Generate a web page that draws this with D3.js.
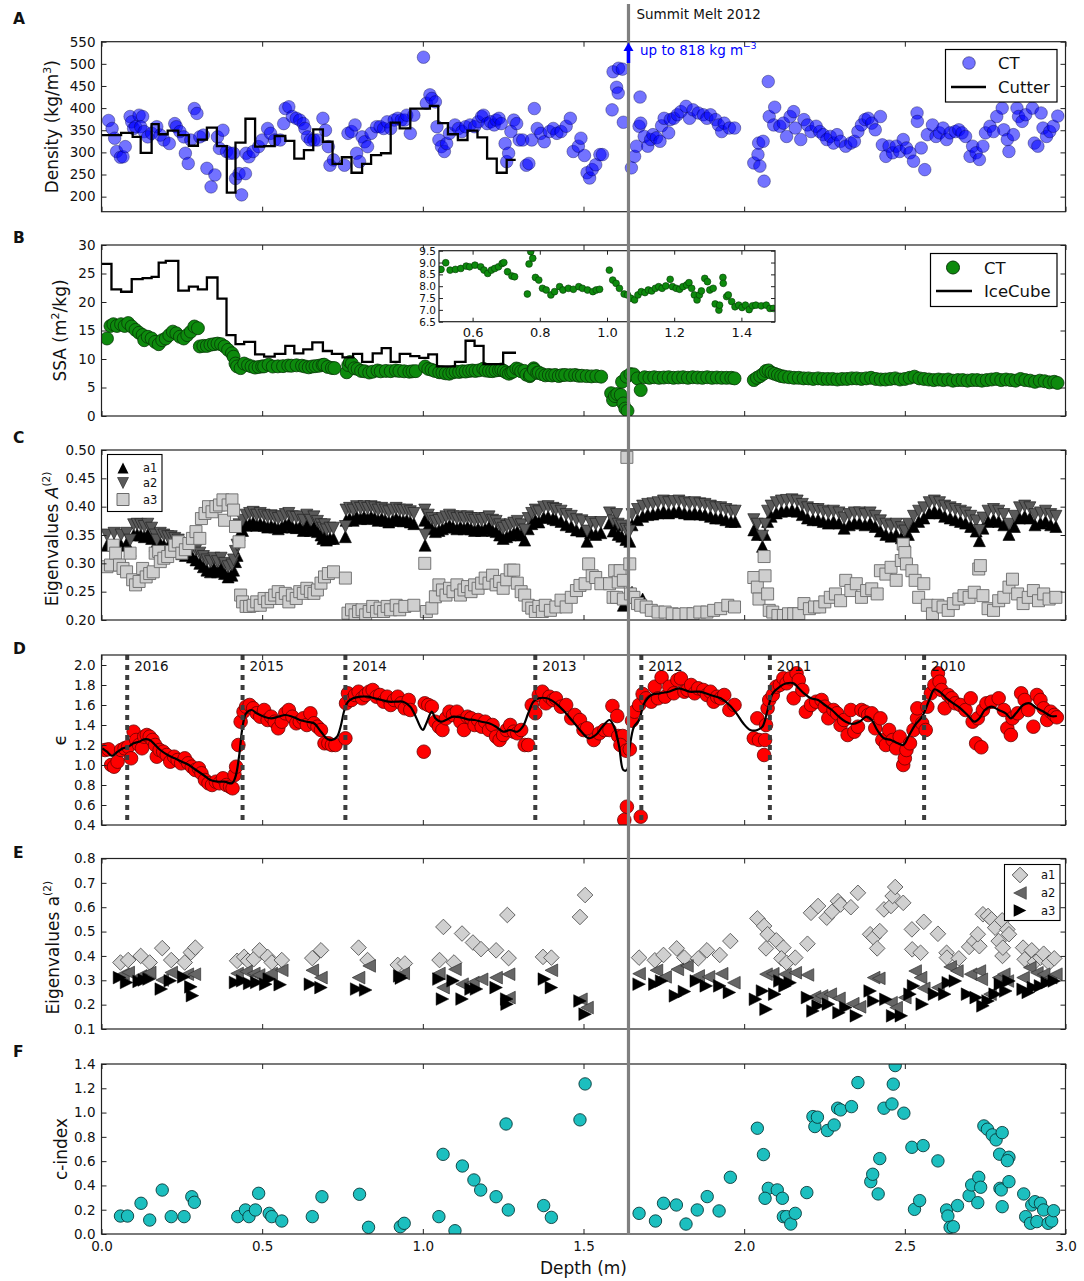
<!DOCTYPE html>
<html><head><meta charset="utf-8">
<script src="https://cdn.jsdelivr.net/npm/d3@7"></script>
<style>
body{margin:0;background:#fff}
svg{display:block}
text{font-family:"DejaVu Sans","Liberation Sans",sans-serif;fill:#111}
</style>
</head><body>
<svg id="c" width="1084" height="1281"></svg>
<script>
// ---------------- DATA ----------------
const MELT_DEPTH = 1.64;
const xTicks = [0,0.5,1,1.5,2,2.5,3];

// Panel A: CT density [depth m, kg/m3]
const ctDensity = [[0.022,372],[0.033,354],[0.041,332],[0.047,302],[0.059,289],[0.067,290],[0.074,313],[0.089,381],[0.094,369],[0.1,354],[0.106,358],[0.117,384],[0.128,381],[0.122,358],[0.133,347],[0.144,335],[0.156,343],[0.172,358],[0.183,339],[0.194,328],[0.211,320],[0.228,365],[0.233,358],[0.244,347],[0.256,335],[0.261,298],[0.27,275],[0.278,328],[0.289,399],[0.297,388],[0.306,335],[0.317,339],[0.328,264],[0.341,222],[0.353,249],[0.361,335],[0.367,309],[0.378,350],[0.389,302],[0.4,298],[0.411,298],[0.417,241],[0.428,252],[0.436,204],[0.448,252],[0.45,298],[0.459,290],[0.472,302],[0.489,313],[0.5,328],[0.517,354],[0.526,343],[0.539,328],[0.556,328],[0.567,365],[0.572,399],[0.583,403],[0.594,381],[0.606,377],[0.617,373],[0.628,365],[0.633,354],[0.641,335],[0.65,328],[0.661,328],[0.672,328],[0.689,377],[0.697,350],[0.706,313],[0.711,271],[0.722,283],[0.756,271],[0.767,343],[0.778,347],[0.789,362],[0.794,298],[0.803,279],[0.811,335],[0.819,324],[0.828,313],[0.839,343],[0.856,358],[0.867,358],[0.878,354],[0.889,369],[0.9,354],[0.911,373],[0.922,377],[0.933,373],[0.944,373],[0.95,384],[0.961,343],[0.972,384],[1.002,515],[1.011,411],[1.022,430],[1.028,422],[1.039,414],[1.044,358],[1.05,328],[1.058,313],[1.067,302],[1.074,320],[1.083,343],[1.1,362],[1.111,354],[1.122,347],[1.133,358],[1.147,362],[1.161,358],[1.172,369],[1.183,381],[1.189,384],[1.2,365],[1.211,369],[1.222,362],[1.228,373],[1.237,377],[1.244,365],[1.256,320],[1.261,279],[1.267,298],[1.274,347],[1.283,373],[1.292,365],[1.3,328],[1.311,328],[1.322,271],[1.33,275],[1.339,328],[1.347,399],[1.356,354],[1.367,343],[1.378,324],[1.394,347],[1.406,354],[1.417,343],[1.43,347],[1.446,359],[1.459,377],[1.468,302],[1.484,314],[1.492,332],[1.503,293],[1.511,254],[1.519,242],[1.527,261],[1.538,272],[1.551,295],[1.559,295],[1.589,396],[1.592,482],[1.603,447],[1.608,434],[1.609,490],[1.621,488],[1.624,368],[1.649,265],[1.659,291],[1.665,314],[1.676,425],[1.673,359],[1.678,366],[1.689,336],[1.7,314],[1.709,329],[1.716,340],[1.727,333],[1.738,325],[1.743,360],[1.751,377],[1.765,344],[1.77,374],[1.781,377],[1.792,385],[1.803,392],[1.819,404],[1.83,377],[1.841,396],[1.857,389],[1.873,385],[1.884,377],[1.895,385],[1.911,374],[1.92,362],[1.93,347],[1.938,366],[1.954,355],[1.97,355],[2.03,276],[2.043,295],[2.049,269],[2.062,235],[2.045,321],[2.059,325],[2.075,460],[2.078,381],[2.095,402],[2.092,362],[2.111,359],[2.122,366],[2.132,336],[2.143,381],[2.154,392],[2.159,355],[2.176,329],[2.186,374],[2.197,362],[2.208,347],[2.224,359],[2.235,347],[2.246,340],[2.257,329],[2.268,336],[2.278,321],[2.289,340],[2.3,325],[2.316,314],[2.332,321],[2.343,325],[2.354,347],[2.365,362],[2.376,374],[2.386,377],[2.397,366],[2.408,351],[2.424,381],[2.43,317],[2.441,291],[2.451,314],[2.462,299],[2.473,314],[2.484,302],[2.495,329],[2.505,310],[2.516,299],[2.527,280],[2.538,389],[2.539,370],[2.551,310],[2.562,261],[2.57,340],[2.586,362],[2.597,336],[2.608,344],[2.619,355],[2.63,329],[2.641,344],[2.657,347],[2.668,351],[2.678,344],[2.689,336],[2.703,291],[2.711,314],[2.722,299],[2.732,284],[2.743,314],[2.751,344],[2.765,359],[2.776,347],[2.786,381],[2.803,400],[2.808,351],[2.819,329],[2.824,302],[2.838,340],[2.849,400],[2.854,381],[2.865,370],[2.876,385],[2.897,400],[2.903,321],[2.914,314],[2.924,389],[2.93,355],[2.941,336],[2.951,347],[2.962,359],[2.976,382]];

// Panel A: cutter density steps (bin edges and values)
const cutterEdges = [0,0.061,0.097,0.122,0.156,0.178,0.206,0.239,0.272,0.3,0.328,0.359,0.39,0.417,0.448,0.478,0.506,0.539,0.572,0.6,0.63,0.659,0.689,0.719,0.748,0.778,0.811,0.839,0.87,0.9,0.928,0.961,0.992,1.022,1.048,1.078,1.109,1.139,1.17,1.2,1.23,1.261,1.289];
const cutterValues = [339,344,335,299,364,341,349,339,315,329,356,314,209,322,376,313,314,337,326,286,305,352,324,274,289,254,274,294,298,367,354,399,399,405,366,341,328,349,334,286,254,283];

// Panel B: CT SSA [depth, m2/kg]
const ctSSA = [[0.017,13.6],[0.028,15.8],[0.037,16.1],[0.048,15.8],[0.061,16.1],[0.072,15.8],[0.083,16.3],[0.094,15.7],[0.106,15.1],[0.117,14.6],[0.128,14.2],[0.133,13.3],[0.144,13.9],[0.156,13.6],[0.167,13.0],[0.178,12.6],[0.189,13.3],[0.2,13.6],[0.211,14.2],[0.222,14.8],[0.233,14.5],[0.244,13.9],[0.256,13.6],[0.267,14.2],[0.278,14.8],[0.289,15.7],[0.3,15.4],[0.306,12.2],[0.317,12.3],[0.328,12.3],[0.339,12.5],[0.35,12.6],[0.361,12.7],[0.372,12.6],[0.383,12.2],[0.394,11.6],[0.406,11.0],[0.411,10.4],[0.417,9.2],[0.422,8.7],[0.433,8.4],[0.444,9.2],[0.456,8.9],[0.467,8.7],[0.478,8.5],[0.489,8.6],[0.5,8.7],[0.506,8.71],[0.52,8.99],[0.533,8.68],[0.549,8.71],[0.565,8.75],[0.581,8.85],[0.591,8.82],[0.607,8.89],[0.624,8.82],[0.634,8.68],[0.645,8.54],[0.656,8.68],[0.666,8.75],[0.677,8.82],[0.688,8.96],[0.693,9.0],[0.704,8.61],[0.717,8.43],[0.725,8.4],[0.763,7.67],[0.768,8.94],[0.773,9.46],[0.779,9.18],[0.787,8.37],[0.797,8.26],[0.808,7.91],[0.819,7.84],[0.833,7.63],[0.844,7.77],[0.859,7.98],[0.869,7.84],[0.885,7.91],[0.9,7.87],[0.916,7.98],[0.927,7.91],[0.942,7.84],[0.958,7.77],[0.968,7.84],[0.978,7.87],[1.007,8.68],[1.017,8.26],[1.027,8.12],[1.037,7.91],[1.051,7.67],[1.061,7.63],[1.071,7.49],[1.082,7.42],[1.092,7.63],[1.102,7.77],[1.113,7.73],[1.123,7.84],[1.133,7.8],[1.144,7.91],[1.154,7.98],[1.164,7.91],[1.175,8.01],[1.188,8.29],[1.195,7.98],[1.206,7.91],[1.216,7.87],[1.226,7.98],[1.237,8.05],[1.244,8.15],[1.252,7.91],[1.26,7.63],[1.268,7.42],[1.275,7.63],[1.281,7.8],[1.291,8.33],[1.299,8.19],[1.306,7.84],[1.316,7.91],[1.322,7.25],[1.333,6.99],[1.335,7.2],[1.345,8.37],[1.346,8.12],[1.356,7.56],[1.361,7.63],[1.371,7.35],[1.381,7.13],[1.392,7.2],[1.402,7.1],[1.412,7.2],[1.423,7.01],[1.433,7.17],[1.443,7.2],[1.459,7.17],[1.474,7.2],[1.485,7.06],[1.495,7.06],[1.51,7.0],[1.525,6.95],[1.54,7.0],[1.555,6.9],[1.586,4.0],[1.592,2.8],[1.598,3.5],[1.605,3.85],[1.616,3.7],[1.624,2.2],[1.63,1.3],[1.637,0.9],[1.62,6.0],[1.634,6.9],[1.646,7.35],[1.656,7.3],[1.668,6.6],[1.678,4.55],[1.69,6.8],[1.705,6.7],[1.72,6.8],[1.735,6.7],[1.75,6.75],[1.765,6.8],[1.78,6.7],[1.795,6.75],[1.81,6.8],[1.825,6.7],[1.84,6.8],[1.855,6.75],[1.87,6.7],[1.885,6.8],[1.9,6.7],[1.915,6.75],[1.93,6.7],[1.945,6.7],[1.96,6.7],[1.97,6.6],[2.03,6.3],[2.04,6.7],[2.05,7.0],[2.06,7.4],[2.068,7.9],[2.076,8.0],[2.085,7.6],[2.095,7.4],[2.105,7.2],[2.115,7.0],[2.125,6.9],[2.14,6.8],[2.155,6.7],[2.17,6.7],[2.185,6.6],[2.2,6.6],[2.215,6.5],[2.23,6.6],[2.245,6.5],[2.26,6.5],[2.275,6.5],[2.29,6.4],[2.305,6.5],[2.32,6.5],[2.335,6.6],[2.35,6.6],[2.365,6.5],[2.38,6.6],[2.395,6.7],[2.41,6.5],[2.425,6.4],[2.44,6.4],[2.455,6.5],[2.47,6.6],[2.485,6.4],[2.5,6.5],[2.515,6.7],[2.53,6.9],[2.545,6.6],[2.56,6.5],[2.575,6.4],[2.59,6.3],[2.605,6.4],[2.62,6.3],[2.635,6.4],[2.65,6.2],[2.665,6.3],[2.68,6.3],[2.695,6.2],[2.71,6.3],[2.725,6.3],[2.74,6.2],[2.755,6.3],[2.77,6.4],[2.785,6.5],[2.8,6.3],[2.815,6.4],[2.83,6.3],[2.845,6.2],[2.86,6.5],[2.875,6.3],[2.89,6.2],[2.905,6.0],[2.92,6.2],[2.935,6.1],[2.95,5.9],[2.965,6.0],[2.975,5.8]];

// Panel B: IceCube SSA steps
const iceEdges = [0,0.031,0.061,0.094,0.128,0.156,0.178,0.2,0.239,0.272,0.3,0.328,0.361,0.389,0.417,0.444,0.478,0.506,0.539,0.572,0.6,0.628,0.656,0.689,0.717,0.75,0.783,0.811,0.844,0.872,0.9,0.928,0.961,0.989,1.017,1.044,1.1,1.133,1.161,1.189,1.25,1.29];
const iceValues = [26.7,22.2,21.8,24.0,24.2,24.4,26.9,27.2,22.0,22.7,22.2,24.3,20.6,14.2,12.6,13.0,10.8,10.4,10.9,12.3,11.0,11.7,12.9,11.4,10.9,10.3,10.9,9.5,11.0,11.9,9.5,10.9,10.5,10.2,10.8,8.7,9.5,13.2,12.3,9.1,11.1];
const insetXTicks = [0.6,0.8,1.0,1.2,1.4];
const insetYTicks = [6.5,7.0,7.5,8.0,8.5,9.0,9.5];

// Panel C: eigenvalues A(2): rows [depth, a1, a2]
const eigA12 = [[0.017,0.332,0.35],[0.039,0.335,0.353],[0.061,0.332,0.35],[0.078,0.335,0.353],[0.089,0.323,0.341],[0.1,0.35,0.368],[0.111,0.351,0.369],[0.122,0.35,0.368],[0.133,0.347,0.365],[0.144,0.351,0.369],[0.156,0.344,0.362],[0.167,0.332,0.35],[0.172,0.323,0.341],[0.183,0.335,0.353],[0.194,0.332,0.35],[0.206,0.329,0.347],[0.217,0.329,0.347],[0.228,0.326,0.344],[0.239,0.323,0.341],[0.25,0.317,0.335],[0.261,0.314,0.332],[0.272,0.317,0.335],[0.283,0.311,0.329],[0.294,0.306,0.324],[0.306,0.3,0.318],[0.317,0.294,0.312],[0.328,0.288,0.306],[0.339,0.285,0.303],[0.35,0.291,0.309],[0.361,0.285,0.303],[0.372,0.291,0.309],[0.383,0.282,0.3],[0.394,0.276,0.294],[0.406,0.279,0.297],[0.411,0.288,0.306],[0.417,0.303,0.321],[0.422,0.314,0.332],[0.428,0.35,0.368],[0.439,0.358,0.376],[0.45,0.367,0.385],[0.461,0.37,0.388],[0.472,0.372,0.39],[0.483,0.367,0.385],[0.494,0.37,0.388],[0.506,0.367,0.385],[0.517,0.364,0.382],[0.528,0.366,0.384],[0.539,0.364,0.382],[0.55,0.361,0.379],[0.561,0.364,0.382],[0.572,0.368,0.386],[0.583,0.37,0.388],[0.594,0.364,0.382],[0.606,0.363,0.381],[0.617,0.364,0.382],[0.628,0.358,0.376],[0.639,0.367,0.385],[0.65,0.358,0.376],[0.661,0.364,0.382],[0.672,0.356,0.374],[0.683,0.35,0.368],[0.689,0.344,0.362],[0.694,0.35,0.368],[0.7,0.341,0.359],[0.711,0.344,0.362],[0.722,0.344,0.362],[0.759,0.347,0.365],[0.761,0.376,0.394],[0.772,0.379,0.397],[0.783,0.376,0.394],[0.794,0.382,0.4],[0.806,0.379,0.397],[0.817,0.382,0.4],[0.828,0.379,0.397],[0.839,0.382,0.4],[0.85,0.38,0.398],[0.861,0.376,0.394],[0.872,0.379,0.397],[0.883,0.376,0.394],[0.894,0.373,0.391],[0.906,0.376,0.394],[0.917,0.379,0.397],[0.928,0.376,0.394],[0.939,0.375,0.393],[0.95,0.376,0.394],[0.961,0.373,0.391],[0.972,0.37,0.388],[1.006,0.376,0.394],[1.007,0.332,0.35],[1.017,0.367,0.385],[1.028,0.361,0.379],[1.039,0.356,0.374],[1.05,0.358,0.376],[1.061,0.361,0.379],[1.072,0.364,0.382],[1.083,0.367,0.385],[1.094,0.364,0.382],[1.106,0.361,0.379],[1.117,0.364,0.382],[1.128,0.361,0.379],[1.139,0.364,0.382],[1.15,0.361,0.379],[1.161,0.358,0.376],[1.172,0.361,0.379],[1.183,0.358,0.376],[1.194,0.361,0.379],[1.206,0.364,0.382],[1.217,0.358,0.376],[1.228,0.356,0.374],[1.239,0.35,0.368],[1.25,0.344,0.362],[1.261,0.347,0.365],[1.272,0.35,0.368],[1.283,0.353,0.371],[1.294,0.356,0.374],[1.306,0.35,0.368],[1.317,0.341,0.359],[1.328,0.361,0.379],[1.339,0.37,0.388],[1.35,0.376,0.394],[1.361,0.373,0.391],[1.376,0.381,0.399],[1.39,0.382,0.4],[1.405,0.379,0.397],[1.414,0.377,0.395],[1.43,0.374,0.392],[1.446,0.368,0.386],[1.462,0.365,0.383],[1.478,0.359,0.377],[1.495,0.357,0.375],[1.511,0.339,0.357],[1.522,0.354,0.372],[1.538,0.351,0.369],[1.554,0.354,0.372],[1.581,0.371,0.389],[1.592,0.357,0.375],[1.603,0.368,0.386],[1.608,0.351,0.369],[1.619,0.348,0.366],[1.632,0.342,0.36],[1.644,0.339,0.357],[1.651,0.368,0.386],[1.668,0.377,0.395],[1.684,0.383,0.401],[1.7,0.386,0.404],[1.716,0.387,0.405],[1.732,0.389,0.407],[1.749,0.392,0.41],[1.765,0.389,0.407],[1.781,0.391,0.409],[1.797,0.392,0.41],[1.814,0.389,0.407],[1.83,0.387,0.405],[1.846,0.389,0.407],[1.862,0.387,0.405],[1.878,0.386,0.404],[1.895,0.383,0.401],[1.911,0.38,0.398],[1.927,0.38,0.398],[1.943,0.377,0.395],[1.959,0.374,0.392],[1.972,0.374,0.392],[2.03,0.359,0.377],[2.041,0.351,0.369],[2.057,0.33,0.348],[2.065,0.351,0.369],[2.073,0.374,0.392],[2.084,0.383,0.401],[2.1,0.389,0.407],[2.116,0.392,0.41],[2.132,0.393,0.411],[2.149,0.394,0.412],[2.165,0.392,0.41],[2.181,0.386,0.404],[2.197,0.38,0.398],[2.214,0.377,0.395],[2.23,0.377,0.395],[2.246,0.374,0.392],[2.262,0.371,0.389],[2.278,0.374,0.392],[2.295,0.371,0.389],[2.311,0.362,0.38],[2.327,0.368,0.386],[2.343,0.371,0.389],[2.359,0.371,0.389],[2.376,0.368,0.386],[2.392,0.371,0.389],[2.408,0.365,0.383],[2.424,0.357,0.375],[2.441,0.351,0.369],[2.457,0.348,0.366],[2.473,0.351,0.369],[2.489,0.345,0.363],[2.5,0.339,0.357],[2.511,0.351,0.369],[2.527,0.365,0.383],[2.543,0.374,0.392],[2.559,0.38,0.398],[2.576,0.389,0.407],[2.592,0.392,0.41],[2.608,0.389,0.407],[2.624,0.383,0.401],[2.641,0.38,0.398],[2.657,0.377,0.395],[2.673,0.374,0.392],[2.689,0.371,0.389],[2.705,0.365,0.383],[2.722,0.357,0.375],[2.732,0.34,0.358],[2.743,0.362,0.38],[2.759,0.374,0.392],[2.776,0.377,0.395],[2.792,0.374,0.392],[2.808,0.368,0.386],[2.824,0.351,0.369],[2.841,0.365,0.383],[2.857,0.38,0.398],[2.873,0.383,0.401],[2.889,0.38,0.398],[2.905,0.368,0.386],[2.922,0.371,0.389],[2.938,0.374,0.392],[2.954,0.368,0.386],[2.97,0.365,0.383]];
const eigA1Low = [[1.624,0.226],[1.63,0.24],[1.64,0.252],[1.651,0.249],[1.668,0.24],[1.684,0.237]];
const eigA3 = [[0.017,0.294],[0.028,0.297],[0.037,0.332],[0.044,0.318],[0.056,0.297],[0.067,0.291],[0.078,0.285],[0.089,0.318],[0.097,0.271],[0.106,0.262],[0.117,0.268],[0.128,0.291],[0.139,0.276],[0.15,0.282],[0.161,0.285],[0.167,0.318],[0.178,0.321],[0.183,0.303],[0.194,0.309],[0.206,0.312],[0.217,0.321],[0.228,0.332],[0.239,0.338],[0.25,0.318],[0.261,0.324],[0.272,0.335],[0.283,0.344],[0.294,0.356],[0.306,0.344],[0.311,0.379],[0.322,0.388],[0.333,0.4],[0.344,0.391],[0.356,0.4],[0.367,0.403],[0.378,0.412],[0.383,0.376],[0.394,0.403],[0.406,0.412],[0.411,0.394],[0.417,0.365],[0.428,0.338],[0.433,0.244],[0.439,0.232],[0.45,0.224],[0.461,0.224],[0.472,0.226],[0.483,0.232],[0.494,0.226],[0.506,0.238],[0.517,0.232],[0.528,0.238],[0.539,0.244],[0.55,0.25],[0.561,0.238],[0.572,0.247],[0.583,0.232],[0.594,0.244],[0.606,0.238],[0.617,0.25],[0.628,0.247],[0.639,0.256],[0.65,0.25],[0.661,0.247],[0.672,0.253],[0.683,0.265],[0.694,0.276],[0.706,0.282],[0.722,0.285],[0.759,0.274],[0.767,0.212],[0.778,0.218],[0.789,0.209],[0.8,0.215],[0.811,0.218],[0.822,0.209],[0.833,0.215],[0.844,0.224],[0.856,0.215],[0.867,0.221],[0.878,0.215],[0.889,0.224],[0.9,0.218],[0.917,0.226],[0.928,0.218],[0.944,0.224],[0.972,0.226],[1.006,0.3],[1.011,0.215],[1.028,0.221],[1.039,0.241],[1.05,0.262],[1.061,0.253],[1.072,0.244],[1.083,0.256],[1.094,0.25],[1.106,0.262],[1.117,0.244],[1.128,0.253],[1.139,0.259],[1.15,0.25],[1.161,0.262],[1.172,0.256],[1.183,0.265],[1.194,0.274],[1.206,0.265],[1.217,0.279],[1.228,0.262],[1.239,0.268],[1.25,0.256],[1.261,0.271],[1.272,0.288],[1.283,0.288],[1.294,0.265],[1.306,0.25],[1.317,0.244],[1.328,0.226],[1.339,0.221],[1.35,0.215],[1.361,0.224],[1.372,0.215],[1.381,0.226],[1.397,0.217],[1.414,0.223],[1.43,0.235],[1.446,0.223],[1.462,0.24],[1.478,0.252],[1.489,0.261],[1.505,0.264],[1.516,0.299],[1.527,0.278],[1.538,0.275],[1.554,0.264],[1.581,0.264],[1.592,0.24],[1.597,0.287],[1.603,0.24],[1.608,0.267],[1.614,0.287],[1.624,0.27],[1.624,0.237],[1.635,0.487],[1.644,0.299],[1.646,0.246],[1.657,0.24],[1.668,0.229],[1.678,0.226],[1.695,0.223],[1.711,0.217],[1.732,0.214],[1.754,0.214],[1.776,0.211],[1.797,0.21],[1.819,0.211],[1.841,0.211],[1.862,0.214],[1.884,0.214],[1.905,0.217],[1.927,0.22],[1.949,0.226],[1.97,0.223],[2.03,0.275],[2.041,0.258],[2.046,0.237],[2.062,0.312],[2.065,0.278],[2.073,0.246],[2.078,0.217],[2.089,0.214],[2.105,0.208],[2.122,0.208],[2.138,0.211],[2.154,0.211],[2.17,0.211],[2.186,0.229],[2.203,0.22],[2.219,0.223],[2.235,0.223],[2.251,0.232],[2.268,0.24],[2.284,0.246],[2.3,0.234],[2.316,0.27],[2.332,0.252],[2.349,0.264],[2.365,0.24],[2.381,0.252],[2.397,0.255],[2.414,0.246],[2.424,0.287],[2.441,0.281],[2.457,0.293],[2.473,0.27],[2.489,0.305],[2.495,0.334],[2.5,0.319],[2.505,0.299],[2.522,0.287],[2.532,0.27],[2.543,0.24],[2.559,0.264],[2.57,0.226],[2.586,0.211],[2.603,0.226],[2.619,0.223],[2.635,0.217],[2.651,0.229],[2.668,0.237],[2.684,0.243],[2.7,0.24],[2.716,0.249],[2.73,0.29],[2.735,0.296],[2.743,0.243],[2.759,0.22],[2.776,0.217],[2.792,0.234],[2.808,0.24],[2.824,0.258],[2.835,0.272],[2.851,0.246],[2.868,0.229],[2.884,0.24],[2.9,0.252],[2.916,0.234],[2.932,0.246],[2.949,0.237],[2.97,0.24]];

// Panel D: epsilon [depth, value] and smoothed curve
const epsPoints = [[0.011,1.15],[0.022,1.157],[0.03,1.0],[0.039,0.983],[0.05,1.033],[0.061,1.15],[0.072,1.167],[0.083,1.183],[0.092,1.067],[0.1,1.333],[0.108,1.25],[0.117,1.2],[0.126,1.167],[0.133,1.283],[0.141,1.3],[0.15,1.283],[0.159,1.25],[0.167,1.2],[0.172,1.083],[0.181,1.15],[0.192,1.133],[0.203,1.1],[0.214,1.033],[0.226,1.083],[0.237,1.05],[0.248,1.017],[0.259,1.067],[0.27,1.017],[0.281,0.983],[0.292,0.95],[0.303,0.967],[0.311,0.917],[0.322,0.85],[0.333,0.817],[0.344,0.8],[0.356,0.833],[0.367,0.817],[0.378,0.867],[0.389,0.8],[0.4,0.783],[0.408,0.767],[0.414,0.9],[0.419,0.983],[0.426,1.2],[0.433,1.433],[0.442,1.533],[0.45,1.583],[0.461,1.6],[0.472,1.567],[0.483,1.517],[0.494,1.483],[0.506,1.55],[0.517,1.45],[0.528,1.483],[0.539,1.433],[0.55,1.367],[0.561,1.433],[0.572,1.517],[0.583,1.55],[0.594,1.483],[0.606,1.417],[0.617,1.433],[0.628,1.467],[0.639,1.4],[0.65,1.517],[0.661,1.417],[0.672,1.383],[0.683,1.35],[0.694,1.217],[0.706,1.217],[0.717,1.2],[0.728,1.2],[0.759,1.267],[0.761,1.617],[0.767,1.717],[0.778,1.65],[0.789,1.7],[0.8,1.733],[0.811,1.667],[0.822,1.7],[0.833,1.733],[0.844,1.75],[0.856,1.683],[0.867,1.7],[0.878,1.633],[0.889,1.683],[0.9,1.6],[0.911,1.65],[0.922,1.683],[0.933,1.617],[0.944,1.567],[0.956,1.65],[0.961,1.55],[1.003,1.133],[1.006,1.617],[1.017,1.6],[1.028,1.583],[1.039,1.433],[1.05,1.383],[1.061,1.35],[1.072,1.467],[1.083,1.533],[1.094,1.5],[1.106,1.533],[1.117,1.433],[1.128,1.35],[1.139,1.483],[1.15,1.467],[1.161,1.4],[1.172,1.45],[1.183,1.383],[1.194,1.433],[1.206,1.35],[1.217,1.4],[1.228,1.283],[1.239,1.25],[1.25,1.3],[1.261,1.35],[1.272,1.4],[1.283,1.333],[1.294,1.317],[1.306,1.35],[1.317,1.2],[1.328,1.2],[1.339,1.6],[1.35,1.517],[1.361,1.7],[1.372,1.733],[1.383,1.617],[1.394,1.683],[1.405,1.65],[1.414,1.667],[1.43,1.583],[1.446,1.6],[1.462,1.467],[1.473,1.5],[1.489,1.45],[1.5,1.35],[1.511,1.367],[1.532,1.25],[1.549,1.317],[1.565,1.35],[1.581,1.35],[1.59,1.59],[1.605,1.49],[1.608,1.29],[1.622,1.29],[1.615,1.2],[1.633,1.143],[1.644,1.157],[1.635,0.583],[1.627,0.45],[1.678,0.483],[1.651,1.443],[1.659,1.533],[1.673,1.6],[1.684,1.71],[1.695,1.667],[1.711,1.633],[1.722,1.783],[1.732,1.667],[1.743,1.877],[1.754,1.683],[1.767,1.783],[1.781,1.717],[1.792,1.85],[1.803,1.867],[1.814,1.733],[1.824,1.75],[1.835,1.8],[1.846,1.717],[1.857,1.767],[1.873,1.75],[1.884,1.7],[1.895,1.733],[1.905,1.633],[1.916,1.683],[1.927,1.667],[1.938,1.7],[1.954,1.55],[1.97,1.6],[2.03,1.267],[2.041,1.467],[2.046,1.25],[2.062,1.1],[2.065,1.25],[2.068,1.4],[2.073,1.567],[2.078,1.65],[2.089,1.7],[2.1,1.783],[2.111,1.8],[2.122,1.867],[2.132,1.817],[2.143,1.867],[2.154,1.667],[2.163,1.917],[2.17,1.85],[2.181,1.75],[2.192,1.533],[2.208,1.6],[2.224,1.633],[2.241,1.65],[2.251,1.583],[2.262,1.467],[2.278,1.55],[2.289,1.517],[2.3,1.4],[2.311,1.45],[2.322,1.3],[2.332,1.55],[2.343,1.333],[2.354,1.383],[2.365,1.55],[2.376,1.533],[2.386,1.5],[2.397,1.517],[2.408,1.367],[2.424,1.467],[2.43,1.25],[2.441,1.2],[2.451,1.35],[2.462,1.25],[2.473,1.167],[2.484,1.283],[2.495,1.0],[2.5,1.067],[2.505,1.15],[2.516,1.217],[2.527,1.35],[2.538,1.467],[2.539,1.567],[2.554,1.417],[2.565,1.35],[2.57,1.583],[2.581,1.717],[2.592,1.8],[2.603,1.917],[2.608,1.833],[2.614,1.75],[2.624,1.567],[2.635,1.7],[2.646,1.667],[2.657,1.617],[2.673,1.6],[2.689,1.55],[2.705,1.667],[2.711,1.433],[2.722,1.217],[2.738,1.177],[2.727,1.467],[2.743,1.55],[2.754,1.617],[2.77,1.633],[2.792,1.667],[2.808,1.55],[2.819,1.367],[2.83,1.3],[2.835,1.467],[2.851,1.517],[2.862,1.717],[2.873,1.65],[2.884,1.55],[2.9,1.383],[2.911,1.7],[2.922,1.65],[2.932,1.567],[2.943,1.45],[2.954,1.533],[2.965,1.5],[2.973,1.477]];
const epsSmooth = [[0.003,1.167],[0.017,1.133],[0.033,1.09],[0.05,1.133],[0.067,1.167],[0.083,1.183],[0.1,1.217],[0.117,1.233],[0.133,1.257],[0.15,1.25],[0.167,1.2],[0.183,1.15],[0.206,1.1],[0.228,1.067],[0.25,1.033],[0.272,1.0],[0.294,0.95],[0.317,0.9],[0.339,0.85],[0.361,0.833],[0.383,0.833],[0.406,0.817],[0.417,0.883],[0.428,1.083],[0.439,1.383],[0.45,1.517],[0.467,1.55],[0.483,1.517],[0.506,1.483],[0.528,1.467],[0.55,1.483],[0.572,1.5],[0.594,1.483],[0.617,1.45],[0.639,1.433],[0.661,1.417],[0.683,1.333],[0.7,1.267],[0.717,1.25],[0.733,1.283],[0.744,1.383],[0.756,1.55],[0.767,1.633],[0.783,1.667],[0.806,1.683],[0.828,1.683],[0.85,1.667],[0.872,1.65],[0.894,1.633],[0.917,1.633],[0.939,1.633],[0.961,1.583],[0.978,1.483],[0.992,1.383],[1.0,1.35],[1.011,1.417],[1.028,1.533],[1.039,1.467],[1.056,1.433],[1.072,1.45],[1.094,1.483],[1.117,1.477],[1.139,1.457],[1.161,1.45],[1.183,1.433],[1.206,1.417],[1.228,1.383],[1.25,1.333],[1.272,1.35],[1.294,1.333],[1.311,1.383],[1.328,1.517],[1.344,1.633],[1.361,1.667],[1.386,1.667],[1.414,1.617],[1.441,1.533],[1.468,1.433],[1.489,1.35],[1.516,1.267],[1.538,1.3],[1.559,1.383],[1.581,1.45],[1.597,1.367],[1.611,1.183],[1.624,0.95],[1.635,0.95],[1.644,1.183],[1.657,1.383],[1.673,1.45],[1.689,1.617],[1.711,1.7],[1.738,1.717],[1.765,1.733],[1.797,1.767],[1.83,1.733],[1.862,1.733],[1.895,1.7],[1.927,1.667],[1.954,1.6],[1.976,1.517],[1.997,1.417],[2.019,1.35],[2.041,1.35],[2.057,1.383],[2.073,1.55],[2.089,1.717],[2.111,1.783],[2.132,1.817],[2.154,1.817],[2.17,1.767],[2.186,1.717],[2.208,1.667],[2.23,1.65],[2.251,1.6],[2.273,1.55],[2.295,1.483],[2.316,1.433],[2.338,1.41],[2.359,1.433],[2.381,1.483],[2.397,1.45],[2.414,1.35],[2.435,1.267],[2.457,1.25],[2.478,1.217],[2.495,1.2],[2.511,1.283],[2.532,1.4],[2.554,1.483],[2.576,1.65],[2.592,1.757],[2.608,1.733],[2.63,1.667],[2.651,1.617],[2.673,1.567],[2.695,1.5],[2.716,1.433],[2.732,1.467],[2.749,1.55],[2.77,1.583],[2.792,1.55],[2.814,1.517],[2.83,1.467],[2.846,1.517],[2.868,1.6],[2.889,1.617],[2.911,1.567],[2.932,1.533],[2.954,1.49],[2.973,1.49]];
const yearDepths = [0.08,0.439,0.759,1.35,1.68,2.08,2.56];
const yearLabels = ["2016","2015","2014","2013","2012","2011","2010"];

// Panel E: eigenvalues a(2)
const eigE1 = [[0.059,0.373],[0.083,0.383],[0.122,0.4],[0.15,0.373],[0.189,0.432],[0.217,0.383],[0.259,0.373],[0.278,0.414],[0.292,0.434],[0.422,0.38],[0.444,0.396],[0.456,0.38],[0.474,0.387],[0.492,0.423],[0.517,0.396],[0.53,0.373],[0.561,0.383],[0.656,0.391],[0.683,0.423],[0.8,0.434],[0.828,0.383],[0.922,0.363],[0.944,0.369],[1.052,0.383],[1.064,0.519],[1.097,0.373],[1.122,0.492],[1.156,0.455],[1.181,0.428],[1.228,0.423],[1.263,0.568],[1.267,0.391],[1.374,0.396],[1.4,0.393],[1.489,0.56],[1.505,0.65],[1.673,0.393],[1.722,0.382],[1.749,0.404],[1.79,0.431],[1.814,0.393],[1.857,0.39],[1.884,0.423],[1.924,0.404],[1.957,0.461],[2.041,0.554],[2.062,0.523],[2.073,0.489],[2.068,0.431],[2.1,0.464],[2.122,0.434],[2.116,0.39],[2.132,0.372],[2.159,0.393],[2.197,0.45],[2.208,0.577],[2.23,0.605],[2.257,0.557],[2.273,0.581],[2.292,0.625],[2.3,0.611],[2.332,0.6],[2.354,0.659],[2.392,0.489],[2.403,0.475],[2.414,0.431],[2.422,0.502],[2.435,0.591],[2.457,0.605],[2.462,0.646],[2.47,0.683],[2.495,0.618],[2.522,0.509],[2.523,0.427],[2.549,0.413],[2.559,0.54],[2.603,0.491],[2.63,0.413],[2.631,0.393],[2.668,0.39],[2.7,0.437],[2.716,0.461],[2.732,0.44],[2.727,0.489],[2.743,0.571],[2.759,0.564],[2.77,0.55],[2.781,0.516],[2.792,0.461],[2.803,0.546],[2.819,0.509],[2.824,0.489],[2.804,0.4],[2.805,0.434],[2.868,0.434],[2.873,0.386],[2.895,0.423],[2.905,0.376],[2.922,0.393],[2.932,0.409],[2.949,0.372],[2.965,0.39]];
const eigE2 = [[0.067,0.325],[0.083,0.332],[0.122,0.318],[0.15,0.332],[0.189,0.301],[0.217,0.332],[0.267,0.325],[0.289,0.325],[0.422,0.328],[0.45,0.336],[0.474,0.328],[0.489,0.322],[0.528,0.328],[0.561,0.341],[0.656,0.341],[0.683,0.311],[0.8,0.311],[0.833,0.359],[0.939,0.328],[1.05,0.328],[1.063,0.27],[1.1,0.345],[1.122,0.284],[1.156,0.291],[1.183,0.304],[1.228,0.311],[1.267,0.325],[1.268,0.229],[1.4,0.341],[1.492,0.222],[1.511,0.188],[1.673,0.327],[1.727,0.341],[1.754,0.314],[1.792,0.345],[1.822,0.359],[1.857,0.318],[1.889,0.314],[1.93,0.327],[1.968,0.29],[2.068,0.325],[2.089,0.327],[2.127,0.325],[2.159,0.331],[2.197,0.322],[2.219,0.232],[2.241,0.236],[2.268,0.243],[2.295,0.226],[2.338,0.204],[2.359,0.191],[2.403,0.311],[2.419,0.308],[2.457,0.208],[2.473,0.188],[2.5,0.229],[2.532,0.338],[2.549,0.311],[2.559,0.267],[2.603,0.27],[2.641,0.355],[2.662,0.338],[2.705,0.325],[2.732,0.338],[2.738,0.304],[2.765,0.243],[2.792,0.311],[2.808,0.325],[2.819,0.297],[2.868,0.311],[2.889,0.352],[2.911,0.331],[2.932,0.325],[2.954,0.311],[2.97,0.325]];
const eigE3 = [[0.056,0.311],[0.078,0.291],[0.117,0.295],[0.133,0.301],[0.148,0.305],[0.186,0.264],[0.214,0.298],[0.256,0.314],[0.278,0.273],[0.283,0.237],[0.417,0.291],[0.439,0.298],[0.461,0.287],[0.483,0.291],[0.511,0.284],[0.522,0.305],[0.556,0.282],[0.65,0.284],[0.683,0.27],[0.794,0.264],[0.822,0.26],[0.928,0.318],[0.933,0.309],[1.05,0.305],[1.061,0.223],[1.094,0.298],[1.122,0.223],[1.15,0.264],[1.167,0.264],[1.228,0.27],[1.261,0.223],[1.262,0.202],[1.378,0.305],[1.4,0.27],[1.489,0.215],[1.505,0.161],[1.673,0.284],[1.722,0.284],[1.743,0.297],[1.786,0.236],[1.814,0.254],[1.851,0.297],[1.882,0.277],[1.924,0.277],[1.954,0.25],[2.035,0.222],[2.057,0.256],[2.068,0.181],[2.095,0.243],[2.111,0.297],[2.127,0.277],[2.143,0.29],[2.197,0.229],[2.214,0.174],[2.23,0.195],[2.262,0.202],[2.295,0.167],[2.316,0.188],[2.349,0.154],[2.392,0.256],[2.403,0.215],[2.441,0.222],[2.462,0.154],[2.489,0.154],[2.516,0.243],[2.527,0.277],[2.554,0.202],[2.592,0.243],[2.624,0.243],[2.635,0.29],[2.657,0.297],[2.695,0.243],[2.722,0.229],[2.743,0.195],[2.759,0.215],[2.781,0.243],[2.797,0.284],[2.814,0.256],[2.824,0.297],[2.868,0.263],[2.884,0.25],[2.9,0.27],[2.922,0.277],[2.943,0.29],[2.965,0.297]];

// Panel F: c-index
const cIndex = [[0.059,0.148],[0.081,0.148],[0.123,0.253],[0.15,0.115],[0.189,0.362],[0.217,0.143],[0.257,0.143],[0.281,0.307],[0.289,0.261],[0.424,0.143],[0.448,0.198],[0.459,0.143],[0.479,0.198],[0.489,0.335],[0.522,0.17],[0.53,0.143],[0.561,0.107],[0.656,0.143],[0.686,0.307],[0.803,0.327],[0.831,0.055],[0.93,0.06],[0.942,0.088],[1.05,0.143],[1.063,0.656],[1.1,0.027],[1.123,0.56],[1.159,0.445],[1.18,0.362],[1.228,0.307],[1.259,0.906],[1.266,0.198],[1.376,0.234],[1.4,0.137],[1.489,0.94],[1.505,1.236],[1.673,0.17],[1.724,0.107],[1.749,0.253],[1.789,0.239],[1.819,0.082],[1.854,0.198],[1.885,0.308],[1.922,0.19],[1.957,0.467],[2.041,0.871],[2.06,0.654],[2.075,0.376],[2.065,0.294],[2.103,0.363],[2.119,0.294],[2.122,0.143],[2.132,0.143],[2.145,0.082],[2.159,0.17],[2.195,0.341],[2.214,0.967],[2.22,0.885],[2.228,0.962],[2.259,0.852],[2.28,0.898],[2.291,1.036],[2.3,1.022],[2.334,1.049],[2.354,1.247],[2.394,0.431],[2.4,0.492],[2.417,0.33],[2.422,0.621],[2.435,1.036],[2.46,1.071],[2.464,1.234],[2.47,1.387],[2.497,0.995],[2.522,0.714],[2.53,0.203],[2.546,0.275],[2.557,0.728],[2.603,0.602],[2.63,0.198],[2.634,0.148],[2.641,0.055],[2.651,0.06],[2.664,0.234],[2.7,0.316],[2.708,0.404],[2.73,0.467],[2.736,0.385],[2.727,0.258],[2.746,0.89],[2.757,0.863],[2.772,0.816],[2.784,0.775],[2.803,0.835],[2.795,0.657],[2.824,0.632],[2.819,0.604],[2.796,0.376],[2.8,0.363],[2.803,0.225],[2.824,0.431],[2.87,0.33],[2.876,0.143],[2.891,0.088],[2.895,0.239],[2.905,0.266],[2.911,0.102],[2.922,0.253],[2.932,0.198],[2.946,0.088],[2.957,0.107],[2.963,0.192]];

// ---------------- DRAWING ----------------
const svg = d3.select("#c");
const X0 = 101.5, X1 = 1065.5;
const x = d3.scaleLinear().domain([0,3]).range([X0,X1]);

const P = {
  A:{top:41.7,bot:211.7,dom:[166,550],ticks:d3.range(200,551,50),fmt:d3.format("d")},
  B:{top:245,bot:416,dom:[0,30],ticks:d3.range(0,31,5),fmt:d3.format("d")},
  C:{top:450,bot:620,dom:[0.2,0.5],ticks:[0.2,0.25,0.3,0.35,0.4,0.45,0.5],fmt:d3.format(".2f")},
  D:{top:655,bot:825,dom:[0.4,2.1],ticks:[0.4,0.6,0.8,1.0,1.2,1.4,1.6,1.8,2.0],fmt:d3.format(".1f")},
  E:{top:858.5,bot:1029,dom:[0.1,0.8],ticks:[0.1,0.2,0.3,0.4,0.5,0.6,0.7,0.8],fmt:d3.format(".1f")},
  F:{top:1064,bot:1234,dom:[0,1.4],ticks:[0,0.2,0.4,0.6,0.8,1.0,1.2,1.4],fmt:d3.format(".1f")}
};
for (const k in P){ P[k].y = d3.scaleLinear().domain(P[k].dom).range([P[k].bot,P[k].top]); }

function styleAxis(g, fs){
  g.select(".domain").remove();
  g.selectAll(".tick line").attr("stroke","#222").attr("stroke-width",1);
  g.selectAll(".tick text").attr("font-size",fs||13.5).attr("fill","#111")
    .attr("font-family",'"DejaVu Sans",sans-serif');
}
function frame(p, showX){
  const g = svg.append("g");
  const yl = g.append("g").attr("transform",`translate(${X0},0)`)
    .call(d3.axisLeft(p.y).tickValues(p.ticks).tickFormat(p.fmt).tickSize(-5).tickPadding(6));
  styleAxis(yl);
  const yr = g.append("g").attr("transform",`translate(${X1},0)`)
    .call(d3.axisRight(p.y).tickValues(p.ticks).tickFormat("").tickSize(-5));
  styleAxis(yr);
  const xb = g.append("g").attr("transform",`translate(0,${p.bot})`)
    .call(d3.axisBottom(x).tickValues(xTicks).tickFormat(showX?d3.format(".1f"):"").tickSize(-5).tickPadding(7));
  styleAxis(xb);
  const xt = g.append("g").attr("transform",`translate(0,${p.top})`)
    .call(d3.axisTop(x).tickValues(xTicks).tickFormat("").tickSize(-5));
  styleAxis(xt);
  g.append("rect").attr("x",X0).attr("y",p.top).attr("width",X1-X0).attr("height",p.bot-p.top)
    .attr("fill","none").attr("stroke","#222").attr("stroke-width",1.2);
}
function clipFor(id,p){
  svg.append("clipPath").attr("id",id).append("rect")
    .attr("x",X0).attr("y",p.top).attr("width",X1-X0).attr("height",p.bot-p.top);
  return svg.append("g").attr("clip-path",`url(#${id})`);
}
function stepPoints(edges, vals){
  const pts=[];
  vals.forEach((v,i)=>{pts.push([edges[i],v]);});
  pts.push([edges[edges.length-1], vals[vals.length-1]]);
  return pts;
}
function triPath(dir, s){
  if(dir==="up") return `M0,${-s}L${s},${s}L${-s},${s}Z`;
  if(dir==="down") return `M0,${s}L${s},${-s}L${-s},${-s}Z`;
  if(dir==="left") return `M${-s},0L${s},${-s}L${s},${s}Z`;
  return `M${s},0L${-s},${-s}L${-s},${s}Z`;
}
function diamondPath(s){ return `M0,${-s}L${s},0L0,${s}L${-s},0Z`; }
function squarePath(s){ return `M${-s},${-s}H${s}V${s}H${-s}Z`; }

// Panel letters
[["A",24],["B",243],["C",443],["D",654],["E",858],["F",1057]].forEach(([t,yy])=>{
  svg.append("text").attr("x",13).attr("y",yy).attr("font-size",15.5).attr("font-weight","bold").text(t);
});

// ---- Panel A ----
{
  const p=P.A, g=clipFor("cA",p);
  g.selectAll("circle").data(ctDensity).join("circle")
    .attr("cx",d=>x(d[0])).attr("cy",d=>p.y(d[1])).attr("r",6.3)
    .attr("fill","rgba(0,0,255,0.55)").attr("stroke","rgba(0,0,60,0.45)").attr("stroke-width",0.8);
  g.append("path").datum(stepPoints(cutterEdges,cutterValues))
    .attr("d",d3.line().x(d=>x(d[0])).y(d=>p.y(d[1])).curve(d3.curveStepAfter))
    .attr("fill","none").attr("stroke","#000").attr("stroke-width",2.3);
  frame(p,false);
  const L=svg.append("g");
  L.append("rect").attr("x",945.5).attr("y",49.5).attr("width",111.5).attr("height",52.5).attr("fill","#fff").attr("stroke","#000").attr("stroke-width",1.2);
  L.append("circle").attr("cx",969).attr("cy",63).attr("r",6.3).attr("fill","rgba(0,0,255,0.55)").attr("stroke","rgba(0,0,60,0.45)");
  L.append("text").attr("x",998).attr("y",69).attr("font-size",16.5).text("CT");
  L.append("line").attr("x1",951).attr("x2",986).attr("y1",87).attr("y2",87).attr("stroke","#000").attr("stroke-width",2.3);
  L.append("text").attr("x",998).attr("y",93).attr("font-size",16.5).text("Cutter");
  const t=svg.append("text").attr("x",640).attr("y",54.5).attr("font-size",13.5).style("fill","#0000ff");
  t.append("tspan").text("up to 818 kg m");
  t.append("tspan").attr("dy",-5.5).attr("font-size",9).text("−3");
  const yl=svg.append("text").attr("transform",`translate(58,${(p.top+p.bot)/2}) rotate(-90)`).attr("text-anchor","middle").attr("font-size",17);
  yl.append("tspan").text("Density (kg/m");
  yl.append("tspan").attr("dy",-7).attr("font-size",11).text("3");
  yl.append("tspan").attr("dy",7).text(")");
}

// ---- Panel B ----
{
  const p=P.B, g=clipFor("cB",p);
  g.selectAll("circle").data(ctSSA).join("circle")
    .attr("cx",d=>x(d[0])).attr("cy",d=>p.y(d[1])).attr("r",6.5)
    .attr("fill","#0d8a0d").attr("stroke","#063806").attr("stroke-width",0.8);
  g.append("path").datum(stepPoints(iceEdges,iceValues))
    .attr("d",d3.line().x(d=>x(d[0])).y(d=>p.y(d[1])).curve(d3.curveStepAfter))
    .attr("fill","none").attr("stroke","#000").attr("stroke-width",2.3);
  frame(p,false);
  const ix=d3.scaleLinear().domain([0.5,1.5]).range([439,775]);
  const iy=d3.scaleLinear().domain([6.5,9.5]).range([321.7,250.7]);
  const ig=svg.append("g");
  ig.append("rect").attr("x",439).attr("y",250.7).attr("width",336).attr("height",71).attr("fill","#fff");
  svg.append("clipPath").attr("id","cIn").append("rect").attr("x",439).attr("y",250.7).attr("width",336).attr("height",71);
  const idots=ig.append("g").attr("clip-path","url(#cIn)");
  idots.selectAll("circle").data(ctSSA.filter(d=>d[0]>=0.5&&d[0]<=1.5)).join("circle")
    .attr("cx",d=>ix(d[0])).attr("cy",d=>iy(d[1])).attr("r",3.4)
    .attr("fill","#0d8a0d").attr("stroke","#063806").attr("stroke-width",0.6);
  const il=ig.append("g").attr("transform","translate(439,0)").call(d3.axisLeft(iy).tickValues(insetYTicks).tickFormat(d3.format(".1f")).tickSize(-4).tickPadding(3));
  styleAxis(il,10.5);
  il.selectAll(".tick text").attr("dy","0.34em");
  const ir=ig.append("g").attr("transform","translate(775,0)").call(d3.axisRight(iy).tickValues(insetYTicks).tickFormat("").tickSize(-4));
  styleAxis(ir);
  const ib=ig.append("g").attr("transform","translate(0,321.7)").call(d3.axisBottom(ix).tickValues(insetXTicks).tickFormat(d3.format(".1f")).tickSize(-4).tickPadding(6));
  styleAxis(ib,13);
  const it=ig.append("g").attr("transform","translate(0,250.7)").call(d3.axisTop(ix).tickValues(insetXTicks).tickFormat("").tickSize(-4));
  styleAxis(it);
  ig.append("rect").attr("x",439).attr("y",250.7).attr("width",336).attr("height",71).attr("fill","none").attr("stroke","#222").attr("stroke-width",1.2);
  const L=svg.append("g");
  L.append("rect").attr("x",930.5).attr("y",253.5).attr("width",126.5).attr("height",53).attr("fill","#fff").attr("stroke","#000").attr("stroke-width",1.2);
  L.append("circle").attr("cx",953).attr("cy",267.5).attr("r",6.5).attr("fill","#0d8a0d").attr("stroke","#063806");
  L.append("text").attr("x",984).attr("y",273.5).attr("font-size",16.5).text("CT");
  L.append("line").attr("x1",936).attr("x2",972).attr("y1",291).attr("y2",291).attr("stroke","#000").attr("stroke-width",2.3);
  L.append("text").attr("x",984).attr("y",297).attr("font-size",16.5).text("IceCube");
  const yl=svg.append("text").attr("transform",`translate(66,${(p.top+p.bot)/2}) rotate(-90)`).attr("text-anchor","middle").attr("font-size",17);
  yl.append("tspan").text("SSA (m");
  yl.append("tspan").attr("dy",-7).attr("font-size",11).text("2");
  yl.append("tspan").attr("dy",7).text("/kg)");
}

// ---- Panel C ----
{
  const p=P.C, g=clipFor("cC",p);
  const s=6;
  g.selectAll("path.a1").data(eigA12.map(r=>[r[0],r[1]]).concat(eigA1Low)).join("path").attr("class","a1")
    .attr("d",triPath("up",s)).attr("transform",d=>`translate(${x(d[0])},${p.y(d[1])})`)
    .attr("fill","#000").attr("stroke","#000").attr("stroke-width",0.6);
  g.selectAll("path.a2").data(eigA12.map(r=>[r[0],r[2]])).join("path").attr("class","a2")
    .attr("d",triPath("down",s)).attr("transform",d=>`translate(${x(d[0])},${p.y(d[1])})`)
    .attr("fill","#5a5a5a").attr("stroke","#222").attr("stroke-width",0.7);
  g.selectAll("path.a3").data(eigA3).join("path").attr("class","a3")
    .attr("d",squarePath(6)).attr("transform",d=>`translate(${x(d[0])},${p.y(d[1])})`)
    .attr("fill","#cfcfcf").attr("stroke","#6a6a6a").attr("stroke-width",0.9);
  frame(p,false);
  const L=svg.append("g");
  L.append("rect").attr("x",107.5).attr("y",454.5).attr("width",54.5).attr("height",57).attr("fill","#fff").attr("stroke","#000").attr("stroke-width",1.1);
  L.append("path").attr("d",triPath("up",5.5)).attr("transform","translate(123,468)").attr("fill","#000");
  L.append("path").attr("d",triPath("down",5.5)).attr("transform","translate(123,483)").attr("fill","#5a5a5a").attr("stroke","#222").attr("stroke-width",0.6);
  L.append("path").attr("d",squarePath(6)).attr("transform","translate(123,499.5)").attr("fill","#cfcfcf").attr("stroke","#6a6a6a");
  [["a1",472],["a2",487],["a3",503.5]].forEach(([t,yy])=>L.append("text").attr("x",143).attr("y",yy).attr("font-size",11.5).text(t));
  const yl=svg.append("text").attr("transform",`translate(58,${(p.top+p.bot)/2+4}) rotate(-90)`).attr("text-anchor","middle").attr("font-size",17);
  yl.append("tspan").text("Eigenvalues ");
  yl.append("tspan").attr("font-style","italic").text("A");
  yl.append("tspan").attr("dy",-8).attr("font-size",10.5).text("(2)");
}

// ---- Panel D ----
{
  const p=P.D, g=clipFor("cD",p);
  g.selectAll("circle").data(epsPoints).join("circle")
    .attr("cx",d=>x(d[0])).attr("cy",d=>p.y(d[1])).attr("r",6.8)
    .attr("fill","#ff0000").attr("stroke","#6b0000").attr("stroke-width",0.8);
  g.append("path").datum(epsSmooth)
    .attr("d",d3.line().x(d=>x(d[0])).y(d=>p.y(d[1])).curve(d3.curveCatmullRom.alpha(0.5)))
    .attr("fill","none").attr("stroke","#000").attr("stroke-width",2.2);
  g.selectAll("line.yr").data(yearDepths).join("line").attr("class","yr")
    .attr("x1",d=>x(d)).attr("x2",d=>x(d)).attr("y1",p.top).attr("y2",p.bot)
    .attr("stroke","#3c3c3c").attr("stroke-width",4).attr("stroke-dasharray","5,5");
  yearDepths.forEach((d,i)=>{
    svg.append("text").attr("x",x(d)+7).attr("y",670.5).attr("font-size",13.5).text(yearLabels[i]);
  });
  frame(p,false);
  svg.append("text").attr("transform",`translate(66,${(p.top+p.bot)/2}) rotate(-90)`).attr("text-anchor","middle")
    .attr("font-size",18).text("ϵ");
}

// ---- Panel E ----
{
  const p=P.E, g=clipFor("cE",p);
  g.selectAll("path.e1").data(eigE1).join("path").attr("class","e1")
    .attr("d",diamondPath(7.8)).attr("transform",d=>`translate(${x(d[0])},${p.y(d[1])})`)
    .attr("fill","#d0d0d0").attr("stroke","#555").attr("stroke-width",0.9);
  g.selectAll("path.e2").data(eigE2).join("path").attr("class","e2")
    .attr("d",triPath("left",6.3)).attr("transform",d=>`translate(${x(d[0])},${p.y(d[1])})`)
    .attr("fill","#666").attr("stroke","#333").attr("stroke-width",0.7);
  g.selectAll("path.e3").data(eigE3).join("path").attr("class","e3")
    .attr("d",triPath("right",6.3)).attr("transform",d=>`translate(${x(d[0])},${p.y(d[1])})`)
    .attr("fill","#000").attr("stroke","#000").attr("stroke-width",0.5);
  frame(p,false);
  const L=svg.append("g");
  L.append("rect").attr("x",1004.5).attr("y",864.5).attr("width",55.5).attr("height",56).attr("fill","#fff").attr("stroke","#000").attr("stroke-width",1.1);
  L.append("path").attr("d",diamondPath(7.8)).attr("transform","translate(1020,875)").attr("fill","#d0d0d0").attr("stroke","#555");
  L.append("path").attr("d",triPath("left",6.3)).attr("transform","translate(1020,893)").attr("fill","#666").attr("stroke","#333").attr("stroke-width",0.6);
  L.append("path").attr("d",triPath("right",6.3)).attr("transform","translate(1020,910.5)").attr("fill","#000");
  [["a1",879],["a2",897],["a3",914.5]].forEach(([t,yy])=>L.append("text").attr("x",1041).attr("y",yy).attr("font-size",11.5).text(t));
  const yl=svg.append("text").attr("transform",`translate(59,${(p.top+p.bot)/2+4}) rotate(-90)`).attr("text-anchor","middle").attr("font-size",17);
  yl.append("tspan").text("Eigenvalues a");
  yl.append("tspan").attr("dy",-8).attr("font-size",10.5).text("(2)");
}

// ---- Panel F ----
{
  const p=P.F, g=clipFor("cF",p);
  g.selectAll("circle").data(cIndex).join("circle")
    .attr("cx",d=>x(d[0])).attr("cy",d=>p.y(d[1])).attr("r",6.2)
    .attr("fill","#1cbfbf").attr("stroke","#0a3a3a").attr("stroke-width",0.9);
  frame(p,true);
  svg.append("text").attr("transform",`translate(67,${(p.top+p.bot)/2}) rotate(-90)`).attr("text-anchor","middle")
    .attr("font-size",17).text("c-index");
  svg.append("text").attr("x",(X0+X1)/2).attr("y",1274).attr("text-anchor","middle").attr("font-size",17).text("Depth (m)");
}

// ---- Summit melt line ----
svg.append("line").attr("x1",x(MELT_DEPTH)).attr("x2",x(MELT_DEPTH)).attr("y1",4).attr("y2",1235)
  .attr("stroke","#808080").attr("stroke-width",3.2);
svg.append("text").attr("x",x(MELT_DEPTH)+8).attr("y",18.5).attr("font-size",13.5).text("Summit Melt 2012");
// blue arrow on top of the melt line
{
  const ax=x(MELT_DEPTH);
  svg.append("line").attr("x1",ax).attr("x2",ax).attr("y1",63).attr("y2",50).attr("stroke","#0000ff").attr("stroke-width",3.5);
  svg.append("path").attr("d",`M${ax-5},51L${ax},42.5L${ax+5},51Z`).attr("fill","#0000ff");
}
</script>
</body></html>
